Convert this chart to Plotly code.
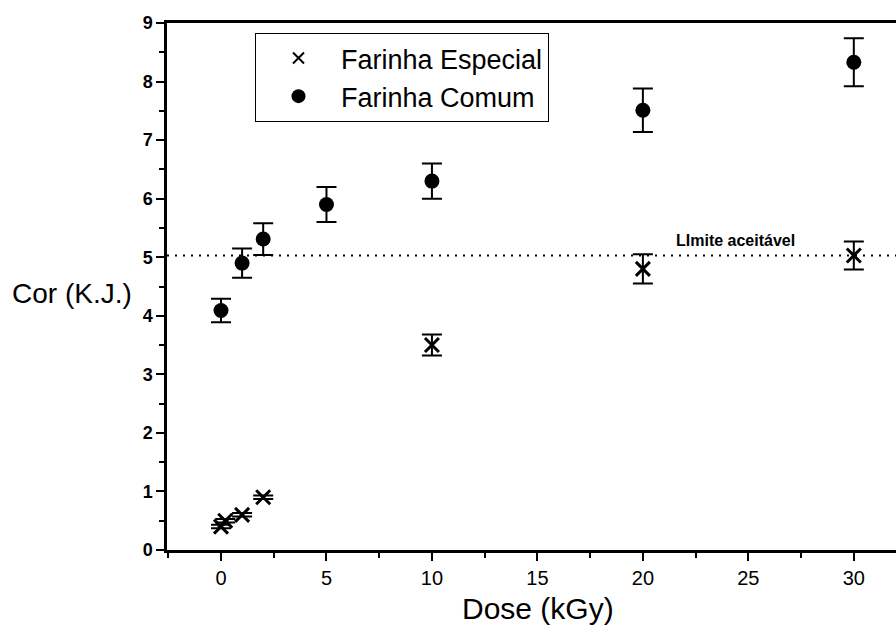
import plotly.graph_objects as go

# Data
esp_dose = [0, 0.2, 1, 2, 10, 20, 30]
esp_cor = [0.4, 0.5, 0.6, 0.9, 3.5, 4.8, 5.03]
esp_err = [0.03, 0.03, 0.03, 0.03, 0.18, 0.25, 0.24]

com_dose = [0, 1, 2, 5, 10, 20, 30]
com_cor = [4.09, 4.9, 5.31, 5.9, 6.3, 7.51, 8.33]
com_err = [0.2, 0.25, 0.27, 0.3, 0.3, 0.37, 0.41]

series_names = ["Farinha Especial", "Farinha Comum"]
limite = 5.03
x_ticks = [0, 5, 10, 15, 20, 25, 30]
y_ticks = [0, 1, 2, 3, 4, 5, 6, 7, 8, 9]

FONT = "Liberation Sans, Arial, sans-serif"
L, T, B, W, H = 167, 23, 82, 896, 632
PW, PH = W - L, H - T - B


def px(xp):
    return (xp - L) / PW


def py(yp):
    return (H - B - yp) / PH


fig = go.Figure()

# plotted data (legend entries drawn by separate legend-only traces)
fig.add_trace(go.Scatter(
    x=esp_dose, y=esp_cor, mode="markers", name=series_names[0],
    showlegend=False,
    marker=dict(symbol="x-thin-open", size=14, color="black",
                line=dict(width=3, color="black")),
    error_y=dict(type="data", array=esp_err, visible=True,
                 color="black", thickness=2, width=10),
))
fig.add_trace(go.Scatter(
    x=com_dose, y=com_cor, mode="markers", name=series_names[1],
    showlegend=False,
    marker=dict(symbol="circle", size=15, color="black"),
    error_y=dict(type="data", array=com_err, visible=True,
                 color="black", thickness=2, width=10),
))
# legend entries
fig.add_trace(go.Scatter(
    x=[None], y=[None], mode="markers", name=series_names[0],
    marker=dict(symbol="x-thin-open", size=11, color="black",
                line=dict(width=2, color="black")),
))
fig.add_trace(go.Scatter(
    x=[None], y=[None], mode="markers", name=series_names[1],
    marker=dict(symbol="circle", size=14, color="black"),
))

fig.add_shape(type="line", xref="x", yref="y", x0=-2.56, x1=32.0,
              y0=limite, y1=limite,
              line=dict(color="black", width=2, dash="2px,6px"))

fig.add_annotation(x=24.4, y=limite, xref="x", yref="y", yshift=15,
                   text="LImite aceitável", showarrow=False,
                   font=dict(family=FONT, size=16, color="black", weight="bold"))

fig.add_annotation(xref="paper", yref="paper", x=px(10), y=py(293),
                   xanchor="left", yanchor="middle",
                   text="Cor (K.J.)", showarrow=False,
                   font=dict(family=FONT, size=28, color="black"))

fig.add_annotation(xref="paper", yref="paper", x=px(538), y=py(608),
                   xanchor="center", yanchor="middle",
                   text="Dose (kGy)", showarrow=False,
                   font=dict(family=FONT, size=30, color="black"))

fig.update_layout(
    width=W, height=H,
    margin=dict(l=L, r=0, t=T, b=B),
    paper_bgcolor="white", plot_bgcolor="white",
    font=dict(family=FONT, color="black"),
    showlegend=True,
    legend=dict(x=px(255), y=py(33),
                xanchor="left", yanchor="top",
                bordercolor="black", borderwidth=1, bgcolor="white",
                font=dict(family=FONT, size=27, color="black"),
                itemwidth=75, tracegroupgap=0),
    xaxis=dict(range=[-2.56, 32.0], tickvals=x_ticks,
               ticktext=[str(v) for v in x_ticks],
               showgrid=False, zeroline=False,
               showline=True, linecolor="black", linewidth=2.5, mirror=True,
               ticks="outside", ticklen=8, tickwidth=2, tickcolor="black",
               ticklabelstandoff=0,
               minor=dict(dtick=2.5, ticks="outside", ticklen=5,
                          tickwidth=1.5, tickcolor="black"),
               tickfont=dict(family=FONT, size=20, color="black")),
    yaxis=dict(range=[0, 9], tickvals=y_ticks,
               showgrid=False, zeroline=False,
               showline=True, linecolor="black", linewidth=2.5, mirror=False,
               ticks="outside", ticklen=8, tickwidth=2, tickcolor="black",
               minor=dict(dtick=0.5, ticks="outside", ticklen=5,
                          tickwidth=1.5, tickcolor="black"),
               tickfont=dict(family=FONT, size=18, color="black", weight="bold")),
)

fig.write_html("out.html", config={"displayModeBar": False},
               post_script="document.body.style.margin='0px';")
